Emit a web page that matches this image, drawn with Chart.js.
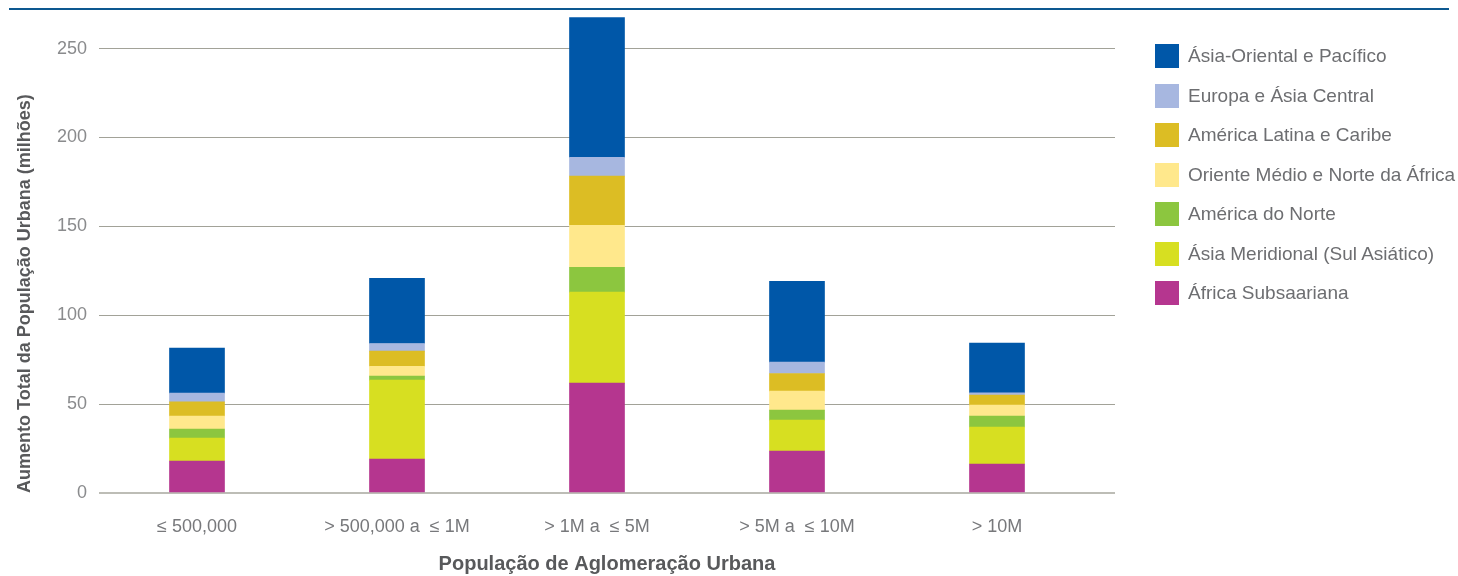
<!DOCTYPE html>
<html lang="pt">
<head>
<meta charset="utf-8">
<title>Aumento da População Urbana por Tamanho de Aglomeração</title>
<script src="https://cdn.jsdelivr.net/npm/chart.js@4/dist/chart.umd.min.js"></script>
<style>
    html, body { margin: 0; padding: 0; background: #fff; }
    #wrap { position: relative; width: 1458px; height: 576px; }
    #topRule { position: absolute; left: 9px; top: 8px; width: 1440px; height: 2px; background: #0d5890; }
    #legend { position: absolute; left: 1155px; top: 44px; margin: 0; padding: 0; list-style: none;
              font-family: "Liberation Sans", Arial, sans-serif; font-size: 19px; color: #6d6e71; }
    #legend li { display: flex; align-items: center; height: 24px; margin-top: 15.5px; white-space: nowrap; }
    #legend li:first-child { margin-top: 0; }
    #legend .box { width: 24px; height: 24px; margin-right: 9px; flex: none; }
</style>
</head>
<body>
<div id="wrap">
    <div id="topRule"></div>
    <canvas id="myChart" width="1458" height="576"></canvas>
    <ul id="legend"></ul>
</div>
<script>
const categories = ['≤ 500,000', '> 500,000 a  ≤ 1M', '> 1M a  ≤ 5M', '> 5M a  ≤ 10M', '> 10M'];

// aumento da população urbana, em milhões, por região
const africaSubsaariana = [18.0, 19.1, 61.8, 23.6, 16.3];
const asiaMeridional = [12.9, 44.4, 51.2, 17.4, 20.8];
const americaNorte = [5.1, 2.2, 14.0, 5.6, 6.2];
const orienteMedio = [7.3, 5.6, 23.6, 10.7, 6.1];
const americaLatina = [8.0, 8.5, 27.7, 9.9, 5.7];
const europaAsiaCentral = [4.9, 4.3, 10.5, 6.4, 1.2];
const asiaOriental = [25.3, 36.7, 78.6, 45.5, 28.0];

const yTicks = [0, 50, 100, 150, 200, 250];

const FONT = '"Liberation Sans", Arial, sans-serif';

// bottom of the stack first
const series = [
    { label: 'África Subsaariana', values: africaSubsaariana, color: '#b5368f' },
    { label: 'Ásia Meridional (Sul Asiático)', values: asiaMeridional, color: '#d7df21' },
    { label: 'América do Norte', values: americaNorte, color: '#8cc63f' },
    { label: 'Oriente Médio e Norte da África', values: orienteMedio, color: '#ffe88c' },
    { label: 'América Latina e Caribe', values: americaLatina, color: '#dcbd24' },
    { label: 'Europa e Ásia Central', values: europaAsiaCentral, color: '#a7b7e0' },
    { label: 'Ásia-Oriental e Pacífico', values: asiaOriental, color: '#0057a8' },
];

const data = {
    datasets: series.map(s => ({
        label: s.label,
        data: s.values.map((v, i) => ({ x: i, y: v })),
        backgroundColor: s.color,
        borderWidth: 0,
        barThickness: 55,
    }))
};

const config = {
    type: 'bar',
    data: data,
    options: {
        responsive: false,
        animation: false,
        layout: {
            padding: { left: 5, right: 343, top: 13, bottom: 0 }
        },
        plugins: {
            legend: { display: false },
            tooltip: { enabled: false },
        },
        scales: {
            x: {
                type: 'linear',
                stacked: true,
                offset: false,
                min: -0.49,
                max: 4.59,
                afterBuildTicks: axis => { axis.ticks = categories.map((c, i) => ({ value: i })); },
                afterFit: scale => { scale.height = 83; },
                grid: { display: false, drawTicks: false },
                border: { display: false },
                ticks: {
                    padding: 23,
                    color: '#77787b',
                    font: { family: FONT, size: 18 },
                    callback: value => categories[value],
                },
                title: {
                    display: true,
                    text: 'População de Aglomeração Urbana',
                    color: '#58595b',
                    font: { family: FONT, size: 20, weight: 'bold' },
                    padding: { top: 0, bottom: 0 },
                }
            },
            y: {
                stacked: true,
                min: 0,
                max: 270,
                afterBuildTicks: axis => { axis.ticks = yTicks.map(v => ({ value: v })); },
                afterFit: scale => {
                    scale.width = 94;
                    // the top tick sits well below the top edge, no room needed for its label
                    scale.paddingTop = 0;
                    scale.paddingBottom = 0;
                },
                grid: {
                    drawTicks: false,
                    color: ctx => ctx.tick && ctx.tick.value === 0 ? '#bdbdb6' : '#a2a298',
                    lineWidth: ctx => ctx.tick && ctx.tick.value === 0 ? 2 : 1,
                },
                border: { display: false },
                ticks: {
                    padding: 12,
                    color: '#8a8b8d',
                    font: { family: FONT, size: 18 },
                },
                title: {
                    display: true,
                    align: 'start',
                    text: 'Aumento Total da População Urbana (milhões)',
                    color: '#58595b',
                    font: { family: FONT, size: 18, weight: 'bold' },
                    padding: { top: 9, bottom: 0 },
                }
            }
        }
    },
};

const ctx = document.getElementById('myChart').getContext('2d');
const chart = new Chart(ctx, config);

// legend, top of the stack first
const legend = document.getElementById('legend');
chart.data.datasets.slice().reverse().forEach(ds => {
    const li = document.createElement('li');
    const box = document.createElement('span');
    box.className = 'box';
    box.style.background = ds.backgroundColor;
    li.appendChild(box);
    li.appendChild(document.createTextNode(ds.label));
    legend.appendChild(li);
});
</script>
</body>
</html>
